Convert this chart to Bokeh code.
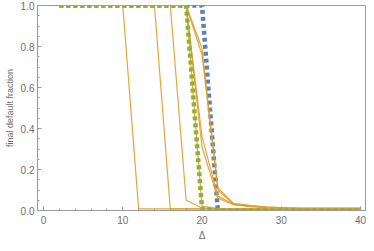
from bokeh.plotting import figure
from bokeh.models import Range1d, SingleIntervalTicker, PrintfTickFormatter
from bokeh.embed import file_html
from bokeh.resources import INLINE

delta = [2, 4, 6, 8, 10, 12, 14, 16, 18, 20, 22, 24, 26, 28, 30, 32, 34, 36, 38, 40]

blue_series = [1, 1, 1, 1, 1, 1, 1, 1, 1, 1, 0, 0, 0, 0, 0, 0, 0, 0, 0, 0]
green_series = [1, 1, 1, 1, 1, 1, 1, 1, 1, 0.01, 0, 0, 0, 0, 0, 0, 0, 0, 0, 0]

orange_1 = [1, 1, 1, 1, 1, 0.008, 0.008, 0.008, 0.008, 0.008, 0.008, 0.008, 0.008, 0.008, 0.008, 0.008, 0.008, 0.008, 0.008, 0.008]
orange_2 = [1, 1, 1, 1, 1, 1, 1, 0.008, 0.008, 0.008, 0.008, 0.008, 0.008, 0.008, 0.008, 0.008, 0.008, 0.008, 0.008, 0.008]
orange_3 = [1, 1, 1, 1, 1, 1, 1, 1, 0.05, 0.012, 0.008, 0.008, 0.008, 0.008, 0.008, 0.008, 0.008, 0.008, 0.008, 0.008]
orange_4 = [1, 1, 1, 1, 1, 1, 1, 1, 1, 0.79, 0.11, 0.035, 0.025, 0.018, 0.014, 0.012, 0.011, 0.01, 0.01, 0.01]
orange_5 = [1, 1, 1, 1, 1, 1, 1, 1, 1, 0.76, 0.10, 0.03, 0.022, 0.016, 0.013, 0.01, 0.01, 0.01, 0.01, 0.01]
orange_6 = [1, 1, 1, 1, 1, 1, 1, 1, 1, 0.36, 0.07, 0.03, 0.02, 0.015, 0.012, 0.01, 0.01, 0.01, 0.01, 0.01]
orange_7 = [1, 1, 1, 1, 1, 1, 1, 1, 1, 0.31, 0.06, 0.028, 0.02, 0.015, 0.012, 0.01, 0.01, 0.01, 0.01, 0.01]
orange_8 = [1, 1, 1, 1, 1, 1, 1, 1, 1, 0.02, 0.01, 0.008, 0.008, 0.008, 0.008, 0.008, 0.008, 0.008, 0.008, 0.008]
orange_series = [orange_1, orange_2, orange_3, orange_4, orange_5, orange_6, orange_7, orange_8]

x_ticks_interval = 10
y_ticks_interval = 0.2
x_title = "Δ"
y_title = "final default fraction"

BLUE = "#5E81B5"
ORANGE = "#E19C24"
GREEN = "#8FB032"
AXIS = "#9a9a9a"
TEXT = "#6e6e6e"
FONT = "Liberation Sans"

p = figure(width=366, height=243, output_backend="svg", toolbar_location=None,
           x_range=Range1d(-0.76, 40.76), y_range=Range1d(0, 1),
           min_border_left=37, min_border_right=0, min_border_top=5, min_border_bottom=31)

p.grid.visible = False
p.outline_line_color = AXIS
p.background_fill_color = "white"
p.border_fill_color = "white"

p.line(delta, blue_series, line_color=BLUE, line_width=4.5, line_dash="4 3")
for ys in orange_series:
    p.line(delta, ys, line_color=ORANGE, line_width=1.2, line_alpha=0.9)
p.line(delta, green_series, line_color=GREEN, line_width=4.5, line_dash="4 3")

p.xaxis.ticker = SingleIntervalTicker(interval=x_ticks_interval, num_minor_ticks=5)
p.yaxis.ticker = SingleIntervalTicker(interval=y_ticks_interval, num_minor_ticks=4)
p.yaxis.formatter = PrintfTickFormatter(format="%.1f")

for ax in (p.xaxis[0], p.yaxis[0]):
    ax.axis_line_color = AXIS
    ax.major_tick_line_color = AXIS
    ax.minor_tick_line_color = AXIS
    ax.major_tick_in = 4
    ax.major_tick_out = 0
    ax.minor_tick_in = 2
    ax.minor_tick_out = 0
    ax.major_label_text_color = TEXT
    ax.major_label_text_font = FONT
    ax.major_label_text_font_size = "10px"
    ax.axis_label_text_color = TEXT
    ax.axis_label_text_font = FONT
    ax.axis_label_text_font_size = "10px"
    ax.axis_label_text_font_style = "normal"

p.xaxis.axis_label = x_title
p.xaxis.major_label_standoff = 5
p.xaxis.axis_label_standoff = 3
p.yaxis.axis_label = y_title
p.yaxis.major_label_standoff = 3
p.yaxis.axis_label_standoff = 3
p.yaxis.axis_label_text_font_size = "9px"

open("out.html", "w").write(file_html(p, INLINE))
